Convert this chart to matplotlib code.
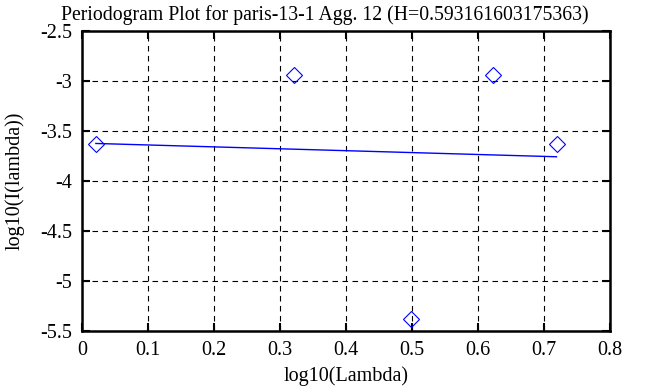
import matplotlib
matplotlib.use("Agg")
import matplotlib.pyplot as plt
import numpy as np

# periodogram points (log10 of frequency, log10 of intensity)
log_lambda = [0.021, 0.322, 0.498, 0.623, 0.719]
log_I = [-3.63, -2.94, -5.38, -2.94, -3.63]

xticks = [0, 0.1, 0.2, 0.3, 0.4, 0.5, 0.6, 0.7, 0.8]
xlabels = ["0", "0.1", "0.2", "0.3", "0.4", "0.5", "0.6", "0.7", "0.8"]
yticks = [-5.5, -5, -4.5, -4, -3.5, -3, -2.5]
ylabels = ["-5.5", "-5", "-4.5", "-4", "-3.5", "-3", "-2.5"]

plt.rcParams['font.family'] = ['Liberation Serif', 'DejaVu Serif']

fig = plt.figure(figsize=(6.58, 3.87), dpi=100)
ax = fig.add_axes([0.1246, 0.1447, 0.8024, 0.7753])

# least squares fit through the points
slope, icpt = np.polyfit(log_lambda, log_I, 1)
xs = np.array([log_lambda[0], log_lambda[-1]])
ax.plot(xs, slope * xs + icpt, color='blue', lw=1)
ax.plot(log_lambda, log_I, linestyle='none', marker='D', markersize=8.5,
        markerfacecolor='none', markeredgecolor='blue', markeredgewidth=0.8)

ax.set_xlim(0, 0.8)
ax.set_ylim(-5.5, -2.5)
ax.set_xticks(xticks)
ax.set_xticklabels(xlabels)
ax.set_yticks(yticks)
ax.set_yticklabels(ylabels)
ax.grid(True, color='black', linestyle=(0, (5, 4)), linewidth=0.8)
ax.tick_params(direction='in', length=6, width=1.5, top=True, right=True,
               labelsize=14.5, pad=7)
for s in ax.spines.values():
    s.set_linewidth(1.8)

ax.set_title("Periodogram Plot for paris-13-1 Agg. 12 (H=0.593161603175363)",
             fontsize=14.2, pad=8, x=0.46)
ax.set_xlabel("log10(Lambda)", fontsize=14.5, labelpad=5)
ax.set_ylabel("log10(I(lambda))", fontsize=14.5, labelpad=11)

fig.savefig("out.png", dpi=100)
